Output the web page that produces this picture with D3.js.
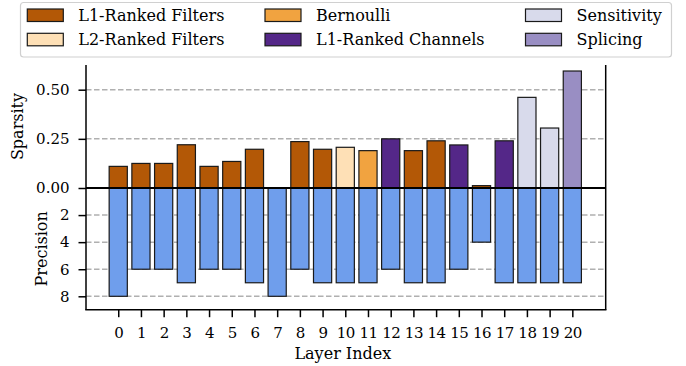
<!DOCTYPE html>
<html>
<head>
<meta charset="utf-8">
<script src="https://cdn.jsdelivr.net/npm/d3@7"></script>
<style>
  html, body { margin: 0; padding: 0; background: #fff; }
  svg { display: block; }
  text { font-family: "DejaVu Serif", serif; fill: #000; }
</style>
</head>
<body>
<svg id="chart" width="686" height="366"></svg>
<script>
// Per-layer pruning summary: sparsity (top) and quantisation precision (bottom)
const layers = d3.range(0, 21);
const sparsity = [0.11, 0.125, 0.125, 0.22, 0.11, 0.135, 0.197, 0, 0.236, 0.197, 0.207,
                  0.19, 0.25, 0.19, 0.24, 0.219, 0.012, 0.24, 0.461, 0.305, 0.595];
const method = ["L1-Ranked Filters", "L1-Ranked Filters", "L1-Ranked Filters", "L1-Ranked Filters",
                "L1-Ranked Filters", "L1-Ranked Filters", "L1-Ranked Filters", "L1-Ranked Filters",
                "L1-Ranked Filters", "L1-Ranked Filters", "L2-Ranked Filters", "Bernoulli",
                "L1-Ranked Channels", "L1-Ranked Filters", "L1-Ranked Filters", "L1-Ranked Channels",
                "L1-Ranked Filters", "L1-Ranked Channels", "Sensitivity", "Sensitivity", "Splicing"];
const precision = [8, 6, 6, 7, 6, 6, 7, 8, 6, 7, 7, 7, 6, 7, 7, 6, 4, 7, 7, 7, 7];

const methods = ["L1-Ranked Filters", "L2-Ranked Filters", "Bernoulli",
                 "L1-Ranked Channels", "Sensitivity", "Splicing"];
const methodColors = ["#b35806", "#fee0b6", "#f1a340", "#542788", "#d8daeb", "#998ec3"];
const sparsityTicks = [0.00, 0.25, 0.50];
const precisionTicks = [2, 4, 6, 8];
const precisionColor = "#6f9eec";

(function draw() {
  const svg = d3.select("#chart");
  const font = "'DejaVu Serif', serif";

  const pLeft = 86, pRight = 605.7, pTop = 65, pMid = 188, pBottom = 309.7;

  const x = d3.scaleLinear().domain([-1.42, 21.47]).range([pLeft, pRight]);
  const barW = x(0.8) - x(0);
  const ySp = d3.scaleLinear().domain([0, 0.6256]).range([pMid, pTop]);
  const yPr = d3.scaleLinear().domain([0, 8.99]).range([pMid, pBottom]);
  const color = d3.scaleOrdinal().domain(methods).range(methodColors);

  // dashed grid lines
  const grid = svg.append("g").attr("stroke", "#b0b0b0").attr("stroke-width", 1.5)
    .attr("stroke-dasharray", "5.5,2.5");
  sparsityTicks.filter(d => d > 0).forEach(v => {
    grid.append("line").attr("x1", pLeft).attr("x2", pRight).attr("y1", ySp(v)).attr("y2", ySp(v));
  });
  precisionTicks.forEach(v => {
    grid.append("line").attr("x1", pLeft).attr("x2", pRight).attr("y1", yPr(v)).attr("y2", yPr(v));
  });

  // sparsity bars
  svg.append("g").selectAll("rect")
    .data(layers.filter(i => sparsity[i] > 0))
    .join("rect")
    .attr("x", i => x(i) - barW / 2)
    .attr("width", barW)
    .attr("y", i => ySp(sparsity[i]))
    .attr("height", i => ySp(0) - ySp(sparsity[i]))
    .attr("fill", i => color(method[i]))
    .attr("stroke", "#1a1a1a")
    .attr("stroke-width", 1.2);

  // precision bars (hanging downward)
  svg.append("g").selectAll("rect")
    .data(layers)
    .join("rect")
    .attr("x", i => x(i) - barW / 2)
    .attr("width", barW)
    .attr("y", yPr(0))
    .attr("height", i => yPr(precision[i]) - yPr(0))
    .attr("fill", precisionColor)
    .attr("stroke", "#1a1a1a")
    .attr("stroke-width", 1.2);

  // spines
  const sp = svg.append("g").attr("stroke", "#000").attr("stroke-width", 1.5).attr("fill", "none");
  sp.append("line").attr("x1", pLeft).attr("x2", pLeft).attr("y1", pTop).attr("y2", pBottom);
  sp.append("line").attr("x1", pRight).attr("x2", pRight).attr("y1", pTop).attr("y2", pBottom);
  sp.append("line").attr("x1", pLeft - 0.75).attr("x2", pRight + 0.75).attr("y1", pBottom).attr("y2", pBottom);
  svg.append("line").attr("x1", pLeft).attr("x2", pRight).attr("y1", pMid).attr("y2", pMid)
    .attr("stroke", "#000").attr("stroke-width", 2);

  // axes
  const fs = "15px";
  const axSp = svg.append("g").attr("transform", `translate(${pLeft},0)`)
    .call(d3.axisLeft(ySp).tickValues(sparsityTicks).tickFormat(d3.format(".2f")).tickSizeOuter(0).tickSize(7.5).tickPadding(9));
  const axPr = svg.append("g").attr("transform", `translate(${pLeft},0)`)
    .call(d3.axisLeft(yPr).tickValues(precisionTicks).tickFormat(d3.format("d")).tickSizeOuter(0).tickSize(7.5).tickPadding(9));
  const axX = svg.append("g").attr("transform", `translate(0,${pBottom})`)
    .call(d3.axisBottom(x).tickValues(layers).tickFormat(d3.format("d")).tickSizeOuter(0).tickSize(7.5).tickPadding(10.5));
  [axSp, axPr, axX].forEach(a => {
    a.attr("font-family", null);
    a.select(".domain").remove();
    a.selectAll(".tick line").attr("stroke", "#000").attr("stroke-width", 1.5);
    a.selectAll(".tick text").style("font-family", font).style("font-size", fs).attr("fill", "#000");
  });
  axX.selectAll(".tick text").attr("letter-spacing", "-0.5px");

  // axis titles
  const tfs = "16px";
  svg.append("text").attr("x", (pLeft + pRight) / 2 - 3).attr("y", 359).attr("text-anchor", "middle")
    .style("font-family", font).style("font-size", tfs).text("Layer Index");
  svg.append("text").attr("transform", `translate(22.8,${(pTop + pMid) / 2}) rotate(-90)`)
    .attr("text-anchor", "middle").style("font-family", font).style("font-size", tfs).text("Sparsity");
  svg.append("text").attr("transform", `translate(46.8,${(pMid + pBottom) / 2}) rotate(-90)`)
    .attr("text-anchor", "middle").style("font-family", font).style("font-size", tfs).text("Precision");

  // legend
  const lg = svg.append("g");
  lg.append("rect").attr("x", 20.5).attr("y", 2.5).attr("width", 651).attr("height", 54.5)
    .attr("rx", 3).attr("fill", "#fff").attr("stroke", "#d0d0d0").attr("stroke-width", 1.2);
  const colX = [27.3, 265, 525.5];
  const rowY = [9, 33.3];
  methods.forEach((m, k) => {
    const cx = colX[Math.floor(k / 2)], cy = rowY[k % 2];
    lg.append("rect").attr("x", cx).attr("y", cy).attr("width", 36).attr("height", 12.5)
      .attr("fill", color(m)).attr("stroke", "#1a1a1a").attr("stroke-width", 1.2);
    lg.append("text").attr("x", cx + 51).attr("y", cy + 11.8)
      .style("font-family", font).style("font-size", "16px").text(m);
  });
})();
</script>
</body>
</html>
